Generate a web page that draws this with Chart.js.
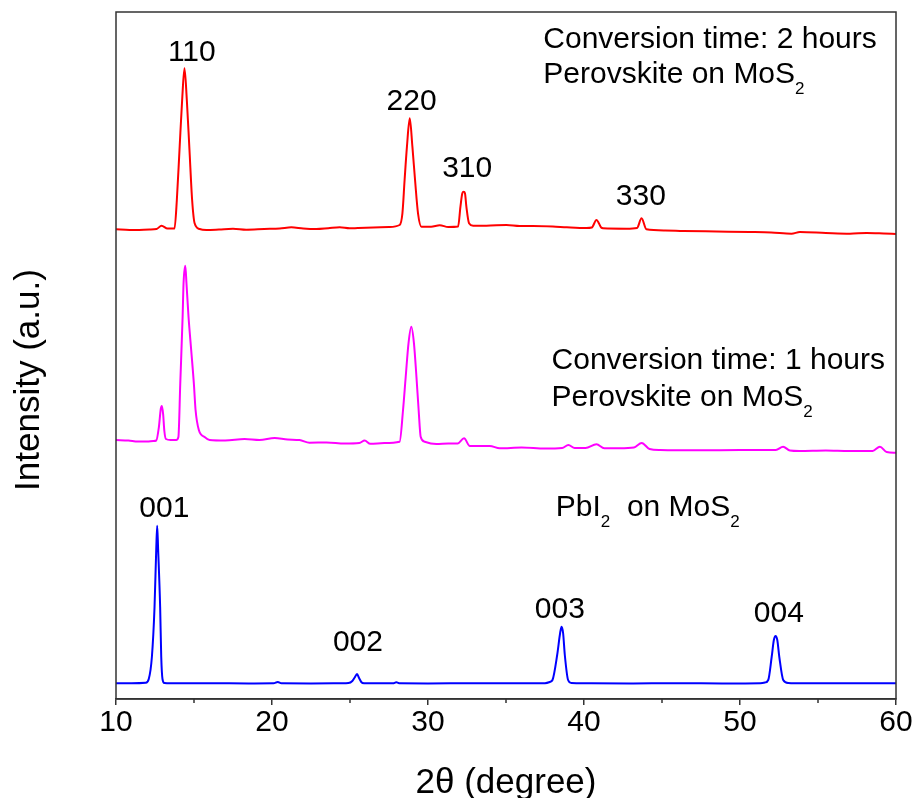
<!DOCTYPE html>
<html><head><meta charset="utf-8">
<script src="https://cdn.jsdelivr.net/npm/chart.js@4"></script>
<style>html,body{margin:0;padding:0;background:#fff}#wrap{width:914px;height:798px;position:relative}canvas{display:block}</style>
</head><body><div id="wrap"><canvas id="c" width="914" height="798"></canvas></div>
<script>
const FONT = '"Liberation Sans", Arial, Helvetica, sans-serif';

// x axis ticks (2θ, degree)
const xTicks = [10, 20, 30, 40, 50, 60];
const xMinorTicks = [15, 25, 35, 45, 55];

// PbI2 on MoS2 (blue)
const blueX = [10, 11, 11.9, 12.1, 12.3, 12.47, 12.58, 12.64, 12.7, 12.83, 12.9, 12.98, 13.1, 13.5, 16, 18.5, 20.1, 20.37, 20.6, 22.5, 24.5, 24.9, 25.15, 25.3, 25.45, 25.58, 25.72, 25.9, 27, 27.75, 27.97, 28.2, 30, 33, 36, 37.5, 37.81, 37.98, 38.28, 38.47, 38.56, 38.66, 38.77, 38.98, 39.2, 40, 43, 46, 49, 51.3, 51.6, 51.81, 52.03, 52.17, 52.28, 52.39, 52.52, 52.77, 53.1, 54, 57, 60];
const blueY = [15.7, 15.7, 16.2, 20, 42, 92, 150, 173.3, 150, 92, 42, 20, 16, 15.7, 15.7, 15.6, 15.7, 17, 15.7, 15.6, 15.7, 15.9, 18, 21.5, 25, 21, 17, 15.8, 15.7, 15.7, 16.7, 15.7, 15.6, 15.7, 15.7, 15.8, 17, 19, 44, 66, 72.3, 66, 44, 19, 16, 15.7, 15.6, 15.7, 15.6, 15.8, 16.5, 19, 42, 59, 63, 59, 42, 19, 16, 15.7, 15.7, 15.7];

// Perovskite on MoS2, 1 hour (magenta)
const magX = [10, 10.8, 11.4, 12.0, 12.4, 12.58, 12.75, 12.87, 12.94, 13.02, 13.1, 13.2, 13.5, 13.86, 14.0, 14.12, 14.27, 14.33, 14.44, 14.52, 14.65, 14.82, 14.99, 15.1, 15.31, 15.68, 16.0, 17.0, 18.24, 19.2, 20.17, 21.0, 21.77, 22.4, 23.5, 24.65, 25.6, 25.94, 26.3, 27.2, 28.18, 28.4, 28.57, 28.75, 28.93, 29.1, 29.26, 29.4, 29.53, 29.79, 30.54, 31.3, 31.9, 32.31, 32.68, 33.96, 34.6, 36, 37.5, 38.6, 39.0, 39.4, 40.1, 40.8, 41.3, 42.3, 43.2, 43.7, 44.2, 44.9, 47.4, 50, 52.3, 52.76, 53.2, 53.8, 55.5, 57, 58.5, 58.97, 59.4, 60];
const magY = [259, 258.5, 257.5, 257.5, 258, 258.5, 272, 290, 293, 285, 268, 260, 259, 259, 262, 315.7, 382, 415.7, 433.3, 415, 382, 349, 315.7, 289, 269, 262, 259, 258.5, 260, 259, 261, 259.5, 259, 256.3, 256.5, 255.5, 256, 258.5, 255.2, 256, 257.3, 289, 322, 355.7, 372.3, 355.7, 322, 289, 262.3, 257.3, 255, 255.5, 255.5, 260.7, 253, 253, 250.7, 251.5, 250.5, 251, 254, 251, 251, 254.7, 250.7, 250.7, 251.5, 256, 250, 249, 248.7, 249, 249, 252.3, 248.5, 248, 248.5, 248, 248, 252.3, 247, 246.3];

// Perovskite on MoS2, 2 hours (red)
const redX = [10, 10.87, 12.15, 12.6, 12.92, 13.3, 13.75, 13.9, 14.07, 14.24, 14.39, 14.54, 14.71, 14.88, 15.04, 15.36, 15.8, 16.6, 17.5, 18.35, 19.5, 20.5, 21.24, 22.0, 22.84, 23.6, 24.34, 24.98, 25.5, 26.5, 27.5, 28.18, 28.36, 28.5, 28.65, 28.83, 29.0, 29.17, 29.36, 29.58, 30.2, 30.75, 31.3, 31.93, 32.08, 32.2, 32.29, 32.37, 32.46, 32.63, 32.89, 33.74, 35.03, 35.88, 36.74, 38.0, 38.9, 40.16, 40.5, 40.8, 41.1, 41.22, 42.72, 43.4, 43.69, 44.0, 45.2, 46.36, 48.5, 50.63, 52.0, 53.3, 53.84, 55.5, 57.05, 58.12, 59.2, 60];
const redY = [469.7, 469, 469.5, 470, 473.3, 470.5, 470.5, 499, 549, 599, 630.7, 599, 549, 499, 475.7, 470, 469, 469.5, 470.3, 469.3, 470, 470.5, 471.7, 470.5, 470, 470.8, 471.7, 470.7, 471, 471.5, 472, 474, 485.7, 519, 552.3, 580.7, 552.3, 519, 485.7, 472.3, 472.3, 473.8, 472, 472.5, 492.3, 505.7, 507.3, 505.7, 492.3, 475.7, 473.3, 473.3, 474, 473, 473, 472.5, 471.7, 471, 471.5, 479, 471.5, 470.7, 470.3, 471, 480.7, 469.7, 468.5, 468, 467.5, 467, 466.5, 465.3, 467, 466, 465.3, 466, 465.5, 465];

// peak (hkl) labels, placed in data units
const peakLabels = ['110', '220', '310', '330', '001', '002', '003', '004'];
const peakLabelX = [14.86, 28.95, 32.51, 43.64, 13.10, 25.51, 38.45, 52.49];
const peakLabelY = [638.3, 589, 521.7, 494, 182.3, 48.3, 80.7, 77.3];

// sample annotations: segments [text, isSubscript]
const noteLines = [
  [['Conversion time: 2 hours', false]],
  [['Perovskite on MoS', false], ['2', true]],
  [['Conversion time: 1 hours', false]],
  [['Perovskite on MoS', false], ['2', true]],
  [['PbI', false], ['2', true], ['  on MoS', false], ['2', true]]
];
const noteX = [37.39, 37.39, 37.92, 37.92, 38.19];
const noteY = [650.7, 615.7, 329.7, 293, 183];

const xTitle = '2\u03B8 (degree)';
const yTitle = 'Intensity (a.u.)';

const mk = (xs, ys) => xs.map((v, i) => ({x: v, y: ys[i]}));

const overlay = {
  id: 'overlay',
  afterDraw(chart) {
    const {ctx, chartArea: a, scales: {x, y}} = chart;
    ctx.save();
    ctx.strokeStyle = '#333';
    ctx.lineWidth = 1.5;
    ctx.strokeRect(a.left, a.top, a.right - a.left, a.bottom - a.top);
    ctx.beginPath();
    xMinorTicks.forEach(v => {
      const px = x.getPixelForValue(v);
      ctx.moveTo(px, a.bottom);
      ctx.lineTo(px, a.bottom + 4);
    });
    ctx.stroke();

    ctx.fillStyle = '#000';
    ctx.textBaseline = 'alphabetic';
    ctx.font = '30px ' + FONT;
    ctx.textAlign = 'center';
    peakLabels.forEach((t, i) => {
      ctx.fillText(t, x.getPixelForValue(peakLabelX[i]), y.getPixelForValue(peakLabelY[i]));
    });

    ctx.textAlign = 'left';
    noteLines.forEach((segs, i) => {
      let px = x.getPixelForValue(noteX[i]);
      const py = y.getPixelForValue(noteY[i]);
      segs.forEach(([t, sub]) => {
        ctx.font = (sub ? '17px ' : '30px ') + FONT;
        ctx.fillText(t, px, py + (sub ? 10.5 : 0));
        px += ctx.measureText(t).width;
      });
    });

    ctx.font = '35px ' + FONT;
    ctx.textAlign = 'center';
    ctx.fillText(xTitle, (a.left + a.right) / 2, 793);
    ctx.save();
    ctx.translate(38.5, 380);
    ctx.rotate(-Math.PI / 2);
    ctx.fillText(yTitle, 0, 0);
    ctx.restore();
    ctx.restore();
  }
};

new Chart(document.getElementById('c'), {
  type: 'line',
  data: {
    datasets: [
      {data: mk(redX, redY), borderColor: '#ff0000'},
      {data: mk(magX, magY), borderColor: '#ff00ff'},
      {data: mk(blueX, blueY), borderColor: '#0000ff'}
    ].map(d => Object.assign(d, {borderWidth: 2, pointRadius: 0, fill: false, cubicInterpolationMode: 'monotone'}))
  },
  options: {
    responsive: false,
    animation: false,
    events: [],
    layout: {padding: {left: 116, right: 18, top: 12, bottom: 0}},
    plugins: {legend: {display: false}, tooltip: {enabled: false}},
    scales: {
      x: {
        type: 'linear', min: 10, max: 60,
        afterBuildTicks: s => { s.ticks = xTicks.map(v => ({value: v})); },
        afterFit: s => { s.height = 99; },
        ticks: {font: {family: FONT, size: 30}, color: '#000', padding: 0, maxRotation: 0, autoSkip: false},
        grid: {drawOnChartArea: false, drawTicks: true, tickLength: 6, color: '#333', lineWidth: 1.5},
        border: {display: true, color: '#333', width: 1.5}
      },
      y: {type: 'linear', min: 0, max: 687, display: false}
    }
  },
  plugins: [overlay]
});
</script>
</body></html>
